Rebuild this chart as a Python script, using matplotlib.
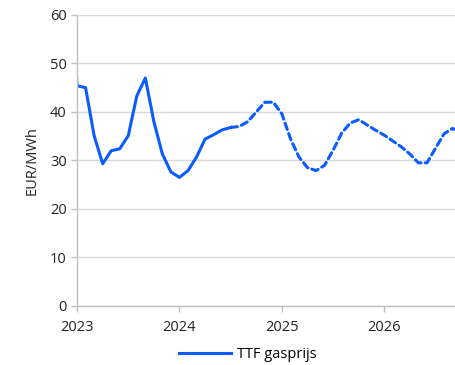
import numpy as np
import matplotlib
matplotlib.use("Agg")
import matplotlib.pyplot as plt

plt.rcParams['font.family'] = ['Open Sans', 'DejaVu Sans']

# monthly TTF gas price, EUR/MWh; month 0 = Jan 2023
hist_months = list(range(-1, 19))
hist_values = [75.0, 45.4, 45.0, 35.1, 29.3, 32.0, 32.4, 35.1, 43.3, 47.0, 38.0,
               31.3, 27.6, 26.5, 27.9, 30.7, 34.4, 35.3, 36.3, 36.8]

fwd_months = list(range(18, 46))
fwd_values = [36.8, 37.0, 38.0, 40.0, 42.0, 42.0, 39.6, 34.5, 30.7, 28.5, 27.9,
              29.0, 32.1, 35.6, 37.7, 38.4, 37.3, 36.2, 35.2, 34.0, 32.8, 31.3,
              29.5, 29.5, 32.5, 35.5, 36.6, 35.8]

year_ticks = [0, 12, 24, 36]
year_labels = ['2023', '2024', '2025', '2026']

blue = '#0a5cff'

fig = plt.figure(figsize=(4.56, 3.65), dpi=100)
ax = fig.add_axes([0.169, 0.162, 0.831, 0.797])

ax.plot(hist_months, hist_values, color=blue, lw=2.2, solid_joinstyle='round',
        label='TTF gasprijs')
ax.plot(fwd_months, fwd_values, color=blue, lw=2.2, ls=(0, (2.2, 1.4)),
        dash_capstyle='round')

ax.set_xlim(0, 44.4)
ax.set_ylim(0, 60)
ax.set_yticks(range(0, 61, 10))
ax.set_xticks(year_ticks)
ax.set_xticklabels(year_labels)
ax.grid(axis='y', color='#d9d9d9', lw=1)
ax.set_axisbelow(True)

for s in ['top', 'right']:
    ax.spines[s].set_visible(False)
for s in ['left', 'bottom']:
    ax.spines[s].set_color('#bfbfbf')
    ax.spines[s].set_linewidth(1)
ax.tick_params(axis='both', colors='#bfbfbf', labelcolor='#222222',
               labelsize=10.5, length=4, width=1)
ax.tick_params(axis='x', pad=6)

ax.set_ylabel('EUR/MWh', fontsize=10.5, color='#222222', labelpad=7)

ax.legend(loc='upper center', bbox_to_anchor=(0.45, -0.095), frameon=False,
          fontsize=10.5, handlelength=3.6, handletextpad=0.4)

fig.savefig('out.png', dpi=100)
